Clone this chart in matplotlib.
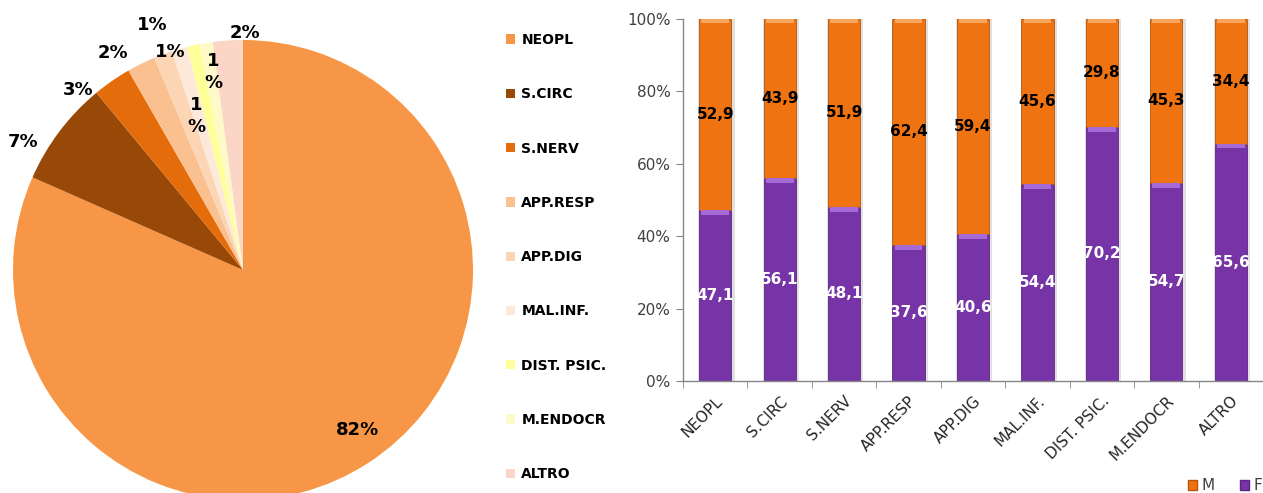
import numpy as np
import matplotlib
matplotlib.use('Agg')
import matplotlib.pyplot as plt
from matplotlib.patches import Patch

# causes of death, share of total (pie) and split by sex (bars)
categories = ['NEOPL', 'S.CIRC', 'S.NERV', 'APP.RESP', 'APP.DIG',
              'MAL.INF.', 'DIST. PSIC.', 'M.ENDOCR', 'ALTRO']
pie_share = [81.6, 7.4, 2.7, 2.0, 1.3, 1.1, 0.9, 0.9, 2.1]
male = [52.9, 43.9, 51.9, 62.4, 59.4, 45.6, 29.8, 45.3, 34.4]
female = [47.1, 56.1, 48.1, 37.6, 40.6, 54.4, 70.2, 54.7, 65.6]

pie_colors = ['#F79646', '#984807', '#E46C0A', '#FAC090', '#FCD5B5',
              '#FDE9D9', '#FFFF99', '#FEF9C8', '#FBD5C6']
# where the percent labels sit (pie radius = 1)
label_xy = [(0.496, -0.696), (-0.957, 0.557), (-0.717, 0.783),
            (-0.565, 0.943), (-0.396, 1.065), (-0.317, 0.948),
            (-0.204, 0.670), (-0.130, 0.861), (0.009, 1.030)]
wrapped = [False, False, False, False, False, False, True, True, False]

W, H = 1263, 493
fig = plt.figure(figsize=(W / 100, H / 100), dpi=100)

# ---- pie ----
cx, cy, r = 243, 270, 230
ax1 = fig.add_axes([(cx - r) / W, (H - cy - r) / H, 2 * r / W, 2 * r / H])
wedges, _ = ax1.pie(pie_share, colors=pie_colors, startangle=90,
                    counterclock=False, radius=1,
                    wedgeprops=dict(linewidth=0))
ax1.set_xlim(-1, 1)
ax1.set_ylim(-1, 1)
ax1.set_aspect('equal')
ax1.axis('off')

for v, (lx, ly), wr in zip(pie_share, label_xy, wrapped):
    txt = '%d%%' % round(v)
    if wr:
        txt = txt.replace('%', '\n%')
    ax1.text(lx, ly, txt, ha='center', va='center', fontsize=13,
             fontweight='bold', color='black', linespacing=1.3)

fig.legend(wedges, categories, loc='upper left',
           bbox_to_anchor=(506 / W, 1 - 33 / H), frameon=False,
           prop=dict(size=10, weight='bold'), handlelength=0.65,
           handleheight=0.65, handletextpad=0.45, labelspacing=2.9,
           borderpad=0, borderaxespad=0)

# ---- stacked bars ----
orange = '#EF7311'
purple = '#7634A6'
ax2 = fig.add_axes([683 / W, (H - 381) / H, (W - 683) / W, 362 / H])
x = np.arange(len(categories))
bw = 0.5
fem = np.array(female)
mal = np.array(male)

# soft shadow behind each bar
ax2.bar(x + 0.02, fem + mal, width=bw + 0.06, color='#C9C9C9', alpha=0.55,
        linewidth=0, zorder=1)
bf = ax2.bar(x, fem, width=bw, color=purple, edgecolor='#5B2783',
             linewidth=0.6, zorder=2, label='F')
bm = ax2.bar(x, mal, width=bw, bottom=fem, color=orange, edgecolor='#B5560C',
             linewidth=0.6, zorder=2, label='M')
# bevel highlight on top of each segment
ax2.bar(x, 1.3, width=bw * 0.86, bottom=fem - 1.3, color='#A56AD6',
        linewidth=0, zorder=3)
ax2.bar(x, 1.0, width=bw * 0.86, bottom=fem + mal - 1.0, color='#F6A55E',
        linewidth=0, zorder=3)

for i in range(len(categories)):
    ax2.text(x[i], fem[i] / 2, ('%.1f' % fem[i]).replace('.', ','),
             ha='center', va='center', fontsize=11, fontweight='bold',
             color='white', zorder=4)
    ax2.text(x[i], fem[i] + mal[i] / 2, ('%.1f' % mal[i]).replace('.', ','),
             ha='center', va='center', fontsize=11, fontweight='bold',
             color='black', zorder=4)

ax2.set_xlim(-0.5, len(categories) - 0.5)
ax2.set_ylim(0, 100)
ax2.set_yticks(range(0, 101, 20))
ax2.set_yticklabels(['%d%%' % t for t in range(0, 101, 20)])
ax2.set_xticks(x)
ax2.set_xticklabels(categories, rotation=45, ha='right', va='top',
                    rotation_mode='anchor')
ax2.set_xticks(np.arange(-0.5, len(categories)), minor=True)
ax2.tick_params(axis='x', which='major', length=0, pad=9,
                labelsize=11, labelcolor='#262626')
ax2.tick_params(axis='x', which='minor', length=5, color='#868686')
ax2.tick_params(axis='y', length=5, color='#868686', labelsize=11,
                labelcolor='#404040', pad=4)
for s in ['top', 'right']:
    ax2.spines[s].set_visible(False)
for s in ['left', 'bottom']:
    ax2.spines[s].set_color('#868686')
    ax2.spines[s].set_linewidth(1.0)

fig.legend([Patch(facecolor=orange, edgecolor='#B5560C'),
            Patch(facecolor=purple, edgecolor='#5B2783')], ['M', 'F'],
           loc='center right', bbox_to_anchor=(1262 / W, 1 - 486 / H),
           ncol=2, frameon=False, prop=dict(size=11), handlelength=0.6,
           handleheight=0.6, handletextpad=0.3, columnspacing=1.6,
           borderpad=0, borderaxespad=0, labelcolor='#404040')

fig.savefig('out.png', dpi=100)
